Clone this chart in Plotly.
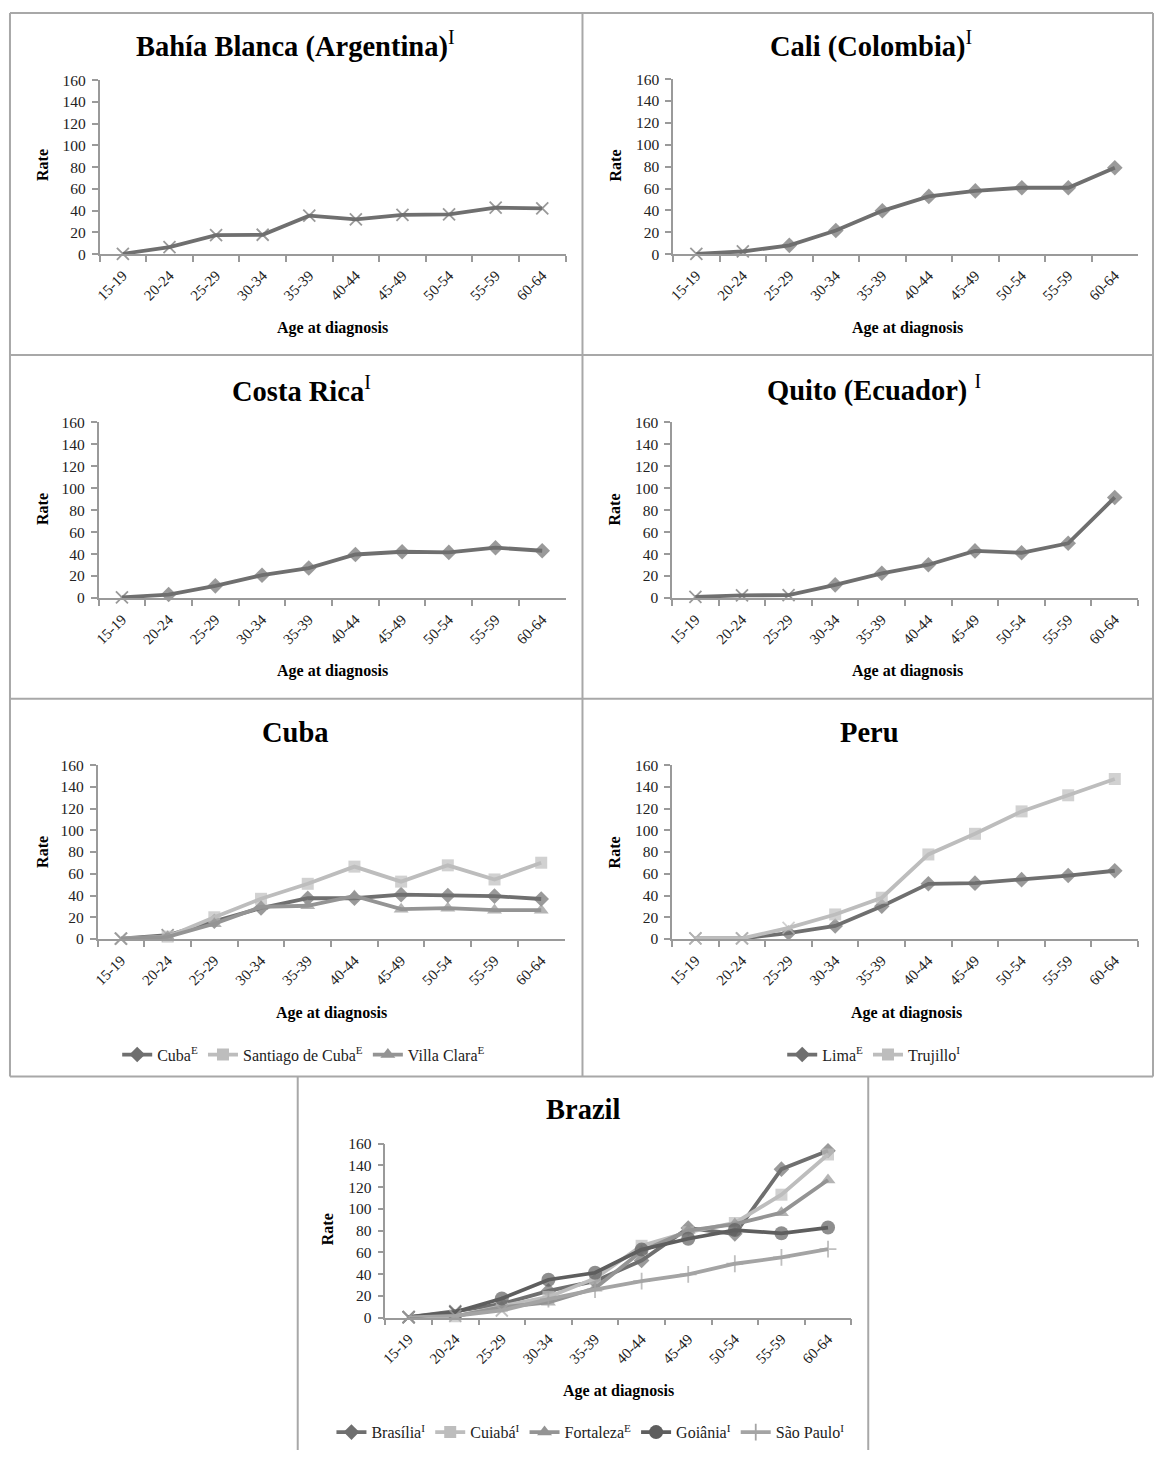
import plotly.graph_objects as go

# ---------------- data ----------------
age_groups = ["15-19", "20-24", "25-29", "30-34", "35-39", "40-44", "45-49", "50-54", "55-59", "60-64"]

bahia_blanca = [0.3, 6.5, 17.5, 17.8, 35.4, 32.0, 36.0, 36.6, 42.8, 42.0]
cali = [0.3, 2.4, 8.0, 21.6, 39.6, 52.8, 57.8, 60.7, 60.7, 79.0]
costa_rica = [0.6, 3.2, 11.1, 20.8, 27.3, 39.6, 42.1, 41.5, 45.8, 43.0]
quito = [1.0, 2.5, 2.6, 12.0, 22.5, 30.3, 42.9, 41.2, 49.8, 91.5]

cuba = [0.4, 3.5, 16.4, 28.5, 37.5, 37.5, 40.8, 40.0, 39.5, 36.8]
santiago_de_cuba = [0.3, 2.2, 20.0, 37.0, 50.8, 66.6, 52.8, 67.8, 54.8, 70.2]
villa_clara = [0.3, 2.0, 14.0, 29.6, 30.6, 39.6, 27.5, 28.4, 26.5, 26.5]

lima = [0.5, 0.5, 5.5, 12.0, 30.2, 50.8, 51.4, 54.6, 58.4, 62.8]
trujillo = [0.5, 0.6, 10.3, 22.6, 38.0, 77.8, 96.8, 117.4, 132.2, 147.2]

brasilia = [0.3, 5.8, 12.5, 24.5, 33.5, 52.5, 82.3, 77.0, 136.5, 153.5]
cuiaba = [0.3, 1.2, 10.5, 19.0, 36.0, 66.0, 78.5, 87.0, 113.0, 150.0]
fortaleza = [0.3, 1.2, 9.5, 14.0, 27.0, 61.0, 80.0, 86.0, 96.5, 126.5]
goiania = [0.3, 5.0, 17.5, 34.8, 41.2, 62.5, 72.5, 80.5, 77.5, 82.8]
sao_paulo = [0.2, 1.5, 6.5, 17.0, 25.8, 33.5, 39.7, 49.5, 55.3, 63.0]

# ---------------- styling ----------------
W, H = 1154, 1458
FONT = "Liberation Serif"
DARK = "#6f6f6f"
DARKER = "#5e5e5e"
MID = "#949494"
LIGHT = "#bdbdbd"
PALE = "#a4a4a4"
AXIS = "#9a9a9a"


def px_x(p):
    return p / W


def px_y(p):
    return 1 - p / H


# panel plot areas (left, right, top, bottom) in pixels
panels = [
    dict(area=(95, 563, 72, 248), title="<b>Bahía Blanca (Argentina)</b><sup>I</sup>", tpos=(292, 36),
         xt=(329, 323), rt=(37, 158)),
    dict(area=(671, 1138, 71, 248), title="<b>Cali (Colombia)</b><sup>I</sup>", tpos=(870, 36),
         xt=(906, 323), rt=(613, 158)),
    dict(area=(94, 563, 418, 596), title="<b>Costa Rica</b><sup>I</sup>", tpos=(298, 384),
         xt=(329, 670), rt=(37, 506)),
    dict(area=(670, 1138, 418, 596), title="<b>Quito (Ecuador)</b> <sup>I</sup>", tpos=(873, 384),
         xt=(906, 670), rt=(612, 506)),
    dict(area=(93, 562, 765, 941), title="<b>Cuba</b>", tpos=(292, 732),
         xt=(328, 1016), rt=(37, 853)),
    dict(area=(670, 1138, 765, 941), title="<b>Peru</b>", tpos=(868, 732),
         xt=(905, 1016), rt=(612, 853)),
    dict(area=(382, 850, 1148, 1324), title="<b>Brazil</b>", tpos=(581, 1113),
         xt=(616, 1398), rt=(324, 1235)),
]

# series per panel: (name, values, color, symbol, size, number of leading points drawn as "x")
series = [
    [("Bahía Blanca", bahia_blanca, DARK, "x-thin", 12, 10)],
    [("Cali", cali, DARK, "diamond", 12, 2)],
    [("Costa Rica", costa_rica, DARK, "diamond", 12, 1)],
    [("Quito", quito, DARK, "diamond", 12, 3)],
    [("Cuba<sup>E</sup>", cuba, DARK, "diamond", 12, 2),
     ("Santiago de Cuba<sup>E</sup>", santiago_de_cuba, LIGHT, "square", 12, 1),
     ("Villa Clara<sup>E</sup>", villa_clara, MID, "triangle-up", 13, 1)],
    [("Lima<sup>E</sup>", lima, DARK, "diamond", 12, 2),
     ("Trujillo<sup>I</sup>", trujillo, LIGHT, "square", 12, 3)],
    [("Brasília<sup>I</sup>", brasilia, DARK, "diamond", 12, 2),
     ("Cuiabá<sup>I</sup>", cuiaba, LIGHT, "square", 12, 1),
     ("Fortaleza<sup>E</sup>", fortaleza, MID, "triangle-up", 13, 1),
     ("Goiânia<sup>I</sup>", goiania, DARKER, "circle", 14, 2),
     ("São Paulo<sup>I</sup>", sao_paulo, PALE, "cross-thin", 12, 3)],
]

legend_for_panel = {4: "legend", 5: "legend2", 6: "legend3"}

fig = go.Figure()
layout = dict(
    width=W, height=H,
    margin=dict(l=0, r=0, t=0, b=0),
    paper_bgcolor="white", plot_bgcolor="white",
    font=dict(family=FONT, color="#222222", size=14),
    showlegend=True,
    annotations=[], shapes=[],
)

for i, (p, sers) in enumerate(zip(panels, series)):
    k = "" if i == 0 else str(i + 1)
    l, r, t, b = p["area"]
    layout["xaxis" + k] = dict(
        domain=[px_x(l), px_x(r)], anchor="y" + k,
        type="category", categoryorder="array", categoryarray=age_groups,
        range=[-0.5, 9.5], tickson="boundaries", ticks="outside", ticklen=6,
        tickcolor=AXIS, tickwidth=1.5, showline=True, linecolor=AXIS, linewidth=1.5,
        showgrid=False, zeroline=False, tickangle=-45, ticklabelstandoff=5,
        tickfont=dict(family=FONT, size=15, color="#222222"), fixedrange=True,
    )
    layout["yaxis" + k] = dict(
        domain=[px_y(b), px_y(t)], anchor="x" + k,
        range=[0, 160], dtick=20, tick0=0, ticks="outside", ticklen=6,
        tickcolor=AXIS, tickwidth=1.5, showline=True, linecolor=AXIS, linewidth=1.5,
        showgrid=False, zeroline=False, ticklabelstandoff=3,
        tickfont=dict(family=FONT, size=15.5, color="#222222"), fixedrange=True,
    )
    # titles
    layout["annotations"].append(dict(
        text=p["title"], x=px_x(p["tpos"][0]), y=px_y(p["tpos"][1]), xref="paper", yref="paper",
        showarrow=False, xanchor="center", yanchor="middle",
        font=dict(family=FONT, size=28.5, color="black")))
    layout["annotations"].append(dict(
        text="<b>Age at diagnosis</b>", x=px_x(p["xt"][0]), y=px_y(p["xt"][1]), xref="paper", yref="paper",
        showarrow=False, xanchor="center", yanchor="middle",
        font=dict(family=FONT, size=16, color="black")))
    layout["annotations"].append(dict(
        text="<b>Rate</b>", x=px_x(p["rt"][0]), y=px_y(p["rt"][1]), xref="paper", yref="paper",
        showarrow=False, xanchor="center", yanchor="middle", textangle=-90,
        font=dict(family=FONT, size=16, color="black")))

    for (name, vals, color, sym, size, nx) in sers:
        symbols = ["x-thin" if j < nx else sym for j in range(len(vals))]
        lw = [1.8 if (s in ("x-thin", "cross-thin")) else 0 for s in symbols]
        sizes = [12 if s == "x-thin" else size for s in symbols]
        fig.add_trace(go.Scatter(
            x=age_groups, y=vals, mode="lines+markers", xaxis="x" + k, yaxis="y" + k,
            line=dict(color=color, width=3.8),
            marker=dict(symbol=symbols, size=sizes, color=color,
                        line=dict(color=color, width=lw)),
            cliponaxis=False, showlegend=False, hoverinfo="x+y", name=name,
        ))
        if i in legend_for_panel:
            fig.add_trace(go.Scatter(
                x=[None], y=[None], mode="lines+markers", xaxis="x" + k, yaxis="y" + k,
                line=dict(color=color, width=3.8),
                marker=dict(symbol=sym, size=size, color=color,
                            line=dict(color=color, width=1.8 if sym == "cross-thin" else 0)),
                name=name, showlegend=True, legend=legend_for_panel[i],
            ))

legend_common = dict(orientation="h", xanchor="center", yanchor="middle",
                     font=dict(family=FONT, size=16, color="#222222"),
                     bgcolor="rgba(0,0,0,0)", itemwidth=30, tracegroupgap=0)
layout["legend"] = dict(legend_common, x=px_x(300), y=px_y(1058))
layout["legend2"] = dict(legend_common, x=px_x(873), y=px_y(1058))
layout["legend3"] = dict(legend_common, x=px_x(588), y=px_y(1440))

# panel borders
BORDER = "#a8a8a8"
def line(x0, y0, x1, y1):
    layout["shapes"].append(dict(type="line", xref="paper", yref="paper",
                                 x0=px_x(x0), y0=px_y(y0), x1=px_x(x1), y1=px_y(y1),
                                 line=dict(color=BORDER, width=2)))

line(5, 4, 1153, 4)
line(5, 4, 5, 1080)
line(1153, 4, 1153, 1080)
line(580, 4, 580, 1080)
line(5, 350, 1153, 350)
line(5, 698, 1153, 698)
line(5, 1080, 1153, 1080)
line(294, 1080, 294, 1458)
line(867, 1080, 867, 1458)

fig.update_layout(**layout)
fig.write_html("out.html", config={"displayModeBar": False})

# remove the default page margin so the figure fills the window exactly
with open("out.html", "r", encoding="utf-8") as f:
    html = f.read()
html = html.replace("<head>", "<head><style>html,body{margin:0;padding:0;overflow:hidden;}</style>", 1)
with open("out.html", "w", encoding="utf-8") as f:
    f.write(html)
